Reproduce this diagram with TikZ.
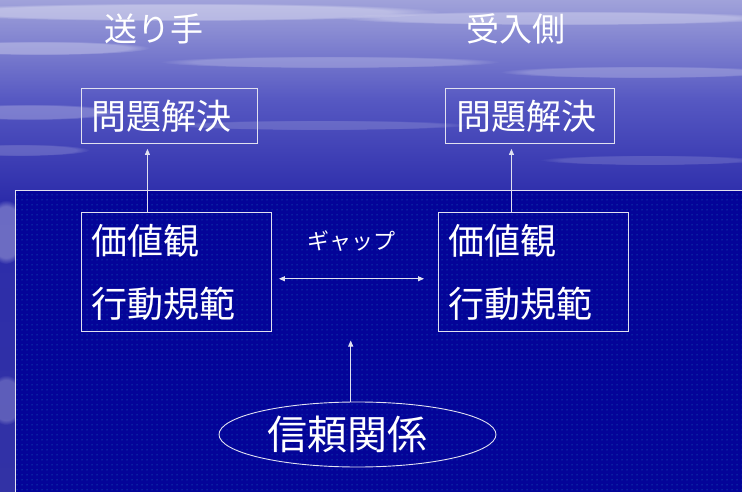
\documentclass[tikz,border=0pt]{standalone}
\usepackage{fontspec}
\newfontfamily\jp{Noto Sans CJK JP}
\usetikzlibrary{arrows.meta,shapes.geometric,patterns.meta,fadings}
\definecolor{bgtop}{RGB}{160,162,218}
\definecolor{bgmid}{RGB}{86,88,194}
\definecolor{bgbot}{RGB}{44,44,170}
\definecolor{inner}{RGB}{4,4,152}
\definecolor{dotc}{RGB}{30,130,200}
\definecolor{linec}{RGB}{225,225,240}
\tikzdeclarepattern{
  name=sparsedots,
  type=uncolored,
  bounding box={(0pt,0pt) and (5pt,5pt)},
  tile size={(5pt,5pt)},
  code={\fill (2.5pt,2.5pt) circle (0.6pt);}
}
\tikzset{
  txt/.style={text=white,inner sep=0pt},
  boxnode/.style={draw=linec,line width=0.9pt,text=white,inner sep=0pt,anchor=north west},
  arr/.style={draw=linec,line width=0.8pt,-{Triangle[length=6pt,width=5pt]}},
  darr/.style={draw=linec,line width=0.8pt,{Triangle[length=6pt,width=5pt]}-{Triangle[length=6pt,width=5pt]}},
  streak/.style={fill=white,path fading=circle with fuzzy edge 20 percent},
}
\begin{document}
\begin{tikzpicture}[x=1pt,y=-1pt]
\useasboundingbox (0,0) rectangle (742,492);
% background
\shade[top color=bgtop,bottom color=bgbot,middle color=bgmid] (0,0) rectangle (742,200);
\fill[bgbot] (0,199) rectangle (742,492);
\shade[top color=bgbot,bottom color={rgb,255:red,50;green,50;blue,165}] (0,200) rectangle (20,492);
% cloud streaks
\fill[streak,opacity=0.35] (180,12) ellipse (260 and 9);
\fill[streak,opacity=0.30] (560,18) ellipse (220 and 7);
\fill[streak,opacity=0.30] (40,48) ellipse (110 and 7);
\fill[streak,opacity=0.22] (330,62) ellipse (170 and 6);
\fill[streak,opacity=0.22] (640,72) ellipse (140 and 6);
\fill[streak,opacity=0.25] (30,112) ellipse (90 and 8);
\fill[streak,opacity=0.16] (320,125) ellipse (150 and 5);
\fill[streak,opacity=0.18] (20,150) ellipse (70 and 6);
\fill[streak,opacity=0.15] (650,160) ellipse (110 and 5);
\fill[streak,opacity=0.30] (6,232) ellipse (20 and 32);
\fill[streak,opacity=0.22] (6,400) ellipse (18 and 25);
% inner panel
\fill[inner] (15.5,190.5) rectangle (750,500);
\fill[pattern=sparsedots,pattern color=dotc] (15.5,190.5) rectangle (750,500);
\draw[linec,line width=0.8pt] (15.5,500) -- (15.5,190.5) -- (750,190.5);
% titles
\node[txt,font=\jp\fontsize{33}{36}\selectfont] (t1) at (154,29) {送り手};
\node[txt,font=\jp\fontsize{33}{36}\selectfont] (t2) at (516,29) {受入側};
% problem-solving boxes
\node[boxnode,minimum height=55pt,text width=154pt,inner xsep=11pt,align=left,font=\jp\fontsize{35}{40}\selectfont] (p1) at (80.5,88) {問題解決};
\node[boxnode,minimum height=55pt,text width=147pt,inner xsep=11pt,align=left,font=\jp\fontsize{35}{40}\selectfont] (p2) at (445,88) {問題解決};
% value boxes
\node[boxnode,minimum height=119pt,text width=169pt,inner xsep=10.5pt,align=left,font=\jp\fontsize{36}{63.5}\selectfont] (v1) at (80.5,212.3) {価値観\\行動規範};
\node[boxnode,minimum height=119pt,text width=169pt,inner xsep=10.5pt,align=left,font=\jp\fontsize{36}{63.5}\selectfont] (v2) at (438,212.3) {価値観\\行動規範};
% gap label
\node[txt,font=\jp\fontsize{22}{24}\selectfont] (gap) at (351.5,241) {ギャップ};
% trust ellipse
\node[ellipse,draw=linec,line width=0.9pt,text=white,inner sep=0pt,minimum width=277pt,minimum height=65pt,font=\jp\fontsize{40}{44}\selectfont] (trust) at (357.5,434.5) {信頼関係\hspace*{20pt}};
% connectors
\path ([xshift=-21.5pt]p1.south) coordinate (p1b);
\draw[arr,shorten >=5pt] (p1b |- v1.north) -- (p1b);
\path ([xshift=-18.5pt]p2.south) coordinate (p2b);
\draw[arr,shorten >=5pt] (p2b |- v2.north) -- (p2b);
\draw[darr,shorten <=7.5pt,shorten >=14pt] ([yshift=-6.5pt]v1.east) -- ([yshift=-6.5pt]v2.west);
\path ([xshift=-6.8pt]trust.north) coordinate (tb);
\draw[arr,shorten >=8.3pt] (tb) -- (tb |- v1.south);
\end{tikzpicture}
\end{document}
